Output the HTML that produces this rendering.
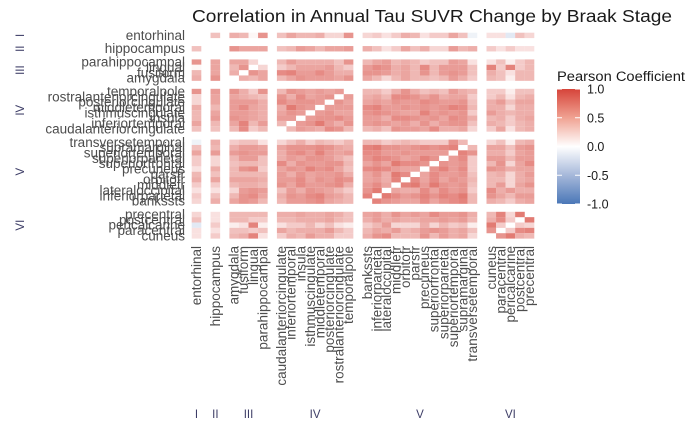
<!DOCTYPE html>
<html><head><meta charset="utf-8"><style>
html,body{margin:0;padding:0;background:#fff;}
svg{display:block;font-family:"Liberation Sans",Arial,sans-serif;}
</style></head><body>
<svg id="chart" width="700" height="432" viewBox="0 0 700 432" xmlns="http://www.w3.org/2000/svg">
<text x="192" y="22" font-size="17.5" textLength="480" lengthAdjust="spacingAndGlyphs" fill="#1a1a1a">Correlation in Annual Tau SUVR Change by Braak Stage</text>
<g id="cells"></g>
<g id="ylabels"></g>
<g id="xlabels"></g>
<g id="strips"></g>
<g>
<text x="557" y="81" font-size="13.5" textLength="128" lengthAdjust="spacingAndGlyphs" fill="#1a1a1a">Pearson Coefficient</text>
<defs><linearGradient id="lg" x1="0" y1="0" x2="0" y2="1">
<stop offset="0" stop-color="#d6443a"/><stop offset="0.25" stop-color="#f0a292"/><stop offset="0.5" stop-color="#ffffff"/><stop offset="0.75" stop-color="#a6b8da"/><stop offset="1" stop-color="#4a77b7"/></linearGradient></defs>
<rect x="557" y="89" width="23" height="115" fill="url(#lg)"/>
<g id="legticks"></g>
</g>
</svg>
<script>
const groupNames = ["I","II","III","IV","V","VI"];
const regions = ["entorhinal","hippocampus","amygdala","fusiform","lingual","parahippocampal",
"caudalanteriorcingulate","inferiortemporal","insula","isthmuscingulate","middletemporal","posteriorcingulate","rostralanteriorcingulate","temporalpole",
"bankssts","inferiorparietal","lateraloccipital","middlefr","orbitofr","parsfr","precuneus","superiorfrontal","superiorparietal","superiortemporal","supramarginal","transversetemporal",
"cuneus","paracentral","pericalcarine","postcentral","precentral"];
const regionGroup = [0,1,2,2,2,2,3,3,3,3,3,3,3,3,4,4,4,4,4,4,4,4,4,4,4,4,5,5,5,5,5];
const lowerTri = [
[],
[0.25],
[0.35,0.5],
[0.3,0.4,0.35],
[0.02,0.4,0.3,0.5],
[0.5,0.4,0.4,0.4,0.15],
[0.25,0.25,0.3,0.55,0.2,0.3],
[0.4,0.3,0.4,0.6,0.3,0.45,0.3],
[0.3,0.45,0.5,0.45,0.4,0.35,0.45,0.45],
[0.3,0.4,0.45,0.45,0.4,0.35,0.4,0.5,0.45],
[0.35,0.3,0.45,0.55,0.4,0.35,0.35,0.65,0.5,0.45],
[0.15,0.4,0.45,0.45,0.45,0.35,0.55,0.45,0.5,0.5,0.45],
[0.15,0.4,0.4,0.35,0.3,0.25,0.5,0.35,0.55,0.4,0.45,0.5],
[0.5,0.45,0.5,0.35,0.2,0.5,0.3,0.5,0.45,0.4,0.45,0.4,0.45],
[0.15,0.35,0.4,0.5,0.45,0.3,0.3,0.45,0.45,0.5,0.55,0.4,0.35,0.3],
[0.2,0.25,0.3,0.5,0.55,0.4,0.35,0.5,0.45,0.55,0.6,0.45,0.4,0.3,0.6],
[0.1,0.1,0.15,0.45,0.5,0.45,0.25,0.45,0.35,0.5,0.45,0.4,0.3,0.2,0.5,0.65],
[0.2,0.2,0.3,0.35,0.35,0.3,0.5,0.4,0.55,0.45,0.45,0.5,0.55,0.35,0.45,0.55,0.4],
[0.35,0.4,0.4,0.4,0.4,0.35,0.45,0.45,0.55,0.4,0.5,0.45,0.55,0.5,0.4,0.45,0.35,0.6],
[0.3,0.25,0.3,0.3,0.3,0.3,0.45,0.35,0.5,0.4,0.45,0.45,0.5,0.35,0.4,0.5,0.35,0.65,0.55],
[0.1,0.35,0.3,0.5,0.55,0.2,0.4,0.5,0.45,0.6,0.5,0.55,0.4,0.25,0.55,0.6,0.55,0.45,0.4,0.4],
[0.2,0.15,0.25,0.3,0.3,0.25,0.55,0.35,0.5,0.45,0.45,0.5,0.5,0.3,0.4,0.5,0.4,0.65,0.55,0.55,0.5],
[0.2,0.15,0.3,0.45,0.45,0.25,0.35,0.45,0.4,0.5,0.5,0.45,0.35,0.25,0.5,0.6,0.55,0.5,0.4,0.45,0.6,0.5],
[0.4,0.45,0.45,0.5,0.45,0.45,0.35,0.5,0.55,0.45,0.6,0.45,0.4,0.45,0.55,0.55,0.45,0.45,0.5,0.45,0.45,0.45,0.45],
[0.25,0.3,0.35,0.45,0.45,0.4,0.4,0.5,0.5,0.5,0.55,0.5,0.4,0.35,0.6,0.65,0.5,0.5,0.45,0.5,0.55,0.5,0.55,0.6],
[-0.05,0.35,0.2,0.25,0.25,0.1,0.15,0.25,0.35,0.2,0.3,0.25,0.2,0.3,0.3,0.3,0.2,0.25,0.3,0.25,0.2,0.2,0.2,0.5,0.3],
[0.1,0.2,0.3,0.35,0.6,0.1,0.2,0.35,0.3,0.45,0.35,0.35,0.2,0.2,0.35,0.5,0.55,0.3,0.3,0.3,0.5,0.3,0.45,0.35,0.4,0.15],
[0.1,0.1,0.25,0.25,0.2,0.25,0.4,0.3,0.35,0.35,0.35,0.45,0.3,0.2,0.3,0.4,0.35,0.45,0.3,0.35,0.45,0.5,0.45,0.35,0.4,0.25,0.5],
[-0.1,0.2,0.05,0.1,0.6,0.05,0.1,0.2,0.2,0.3,0.15,0.25,0.1,0.05,0.2,0.3,0.45,0.15,0.15,0.15,0.35,0.15,0.3,0.2,0.25,0.05,0.65,0.2],
[0.25,0.1,0.3,0.3,0.2,0.2,0.3,0.3,0.35,0.35,0.35,0.4,0.3,0.25,0.35,0.45,0.35,0.4,0.35,0.35,0.4,0.4,0.45,0.4,0.45,0.3,0.35,0.55,0.2],
[0.15,0.1,0.3,0.3,0.3,0.3,0.35,0.35,0.4,0.35,0.35,0.4,0.35,0.25,0.4,0.45,0.35,0.5,0.4,0.45,0.4,0.55,0.45,0.45,0.5,0.35,0.3,0.6,0.15,0.65]
];
const legendTicks = [1.0,0.5,0.0,-0.5,-1.0];
const legendTickLabels = ["1.0","0.5","0.0","-0.5","-1.0"];

const NS="http://www.w3.org/2000/svg";
function mk(tag,attrs,parent){const e=document.createElementNS(NS,tag);for(const k in attrs)e.setAttribute(k,attrs[k]);parent.appendChild(e);return e;}
const N=regions.length;
function corr(i,j){ if(i===j) return null; const a=Math.max(i,j),b=Math.min(i,j); const v=lowerTri[a]&&lowerTri[a][b]; return (v===undefined)?null:v; }
const CW=9.55, CG=9.3, X0=191.7, RH=5.35, RG=8.0, Y0=32.7;
const nGroups=groupNames.length;
function colX(i){ let x=X0; for(let k=0;k<i;k++){ x+=CW; if(regionGroup[k+1]!==regionGroup[k]) x+=CG; } return x; }
const rowOrder=[];
for(let g=0;g<nGroups;g++){ const m=[]; for(let i=0;i<N;i++) if(regionGroup[i]===g) m.push(i); m.reverse(); rowOrder.push(...m); }
function rowY(idx){ let y=Y0; for(let k=0;k<idx;k++){ y+=RH; if(regionGroup[rowOrder[k+1]]!==regionGroup[rowOrder[k]]) y+=RG; } return y; }
function colorScale(v){
  const hi=[214,68,58], lo=[74,119,183], w=[255,255,255];
  const t=Math.pow(Math.min(1,Math.abs(v)),0.8); const c=v>=0?hi:lo;
  const r=w.map((x,k)=>Math.round(x+(c[k]-x)*t));
  return `rgb(${r[0]},${r[1]},${r[2]})`;
}
const cells=document.getElementById('cells');
for(let r=0;r<N;r++){
  const ri=rowOrder[r]; const y=rowY(r);
  for(let c=0;c<N;c++){
    const v=corr(ri,c); if(v===null) continue;
    const rc=mk('rect',{x:colX(c).toFixed(2),y:y.toFixed(2),width:CW+0.05,height:RH+0.05,fill:colorScale(v)},cells);
    
    
  }
}
const yl=document.getElementById('ylabels');
for(let r=0;r<N;r++){
  const t=mk('text',{x:185,y:(rowY(r)+RH/2+4.5).toFixed(2),'text-anchor':'end','font-size':'13.5',fill:'#4d4d4d'},yl);
  t.textContent=regions[rowOrder[r]];
  
  
}
const xl=document.getElementById('xlabels');
for(let c=0;c<N;c++){
  const cx=colX(c)+CW/2+4.5;
  const t=mk('text',{x:0,y:0,transform:`translate(${cx.toFixed(2)},246) rotate(-90)`,'text-anchor':'end','font-size':'13.5',fill:'#4d4d4d'},xl);
  t.textContent=regions[c];
  
  
}
const st=document.getElementById('strips');
for(let g=0;g<nGroups;g++){
  const cols=[];for(let i=0;i<N;i++) if(regionGroup[i]===g) cols.push(i);
  const cx=(colX(cols[0])+colX(cols[cols.length-1])+CW)/2;
  const t=mk('text',{x:cx.toFixed(2),y:418,'text-anchor':'middle','font-size':'11.5',fill:'#3d3d66'},st);
  t.textContent=groupNames[g];
  
  
  const rows=[];for(let k=0;k<N;k++) if(regionGroup[rowOrder[k]]===g) rows.push(k);
  const cy=(rowY(rows[0])+rowY(rows[rows.length-1])+RH)/2;
  const t2=mk('text',{x:0,y:0,transform:`translate(24,${cy.toFixed(2)}) rotate(-90)`,'text-anchor':'middle','font-size':'11.5',fill:'#3d3d66'},st);
  t2.textContent=groupNames[g];
  
  
}
const lt=document.getElementById('legticks');
for(let k=0;k<legendTicks.length;k++){
  const y=89+(1-legendTicks[k])/2*115;
  const a=mk('line',{x1:557,x2:562,y1:y,y2:y,stroke:'#fff','stroke-width':1},lt);
   
  const b=mk('line',{x1:575,x2:580,y1:y,y2:y,stroke:'#fff','stroke-width':1},lt);
   
  const t=mk('text',{x:587,y:(y+4.5).toFixed(2),'font-size':'12.5',fill:'#1a1a1a'},lt);
  t.textContent=legendTickLabels[k];
   
}
</script>
</body></html>
